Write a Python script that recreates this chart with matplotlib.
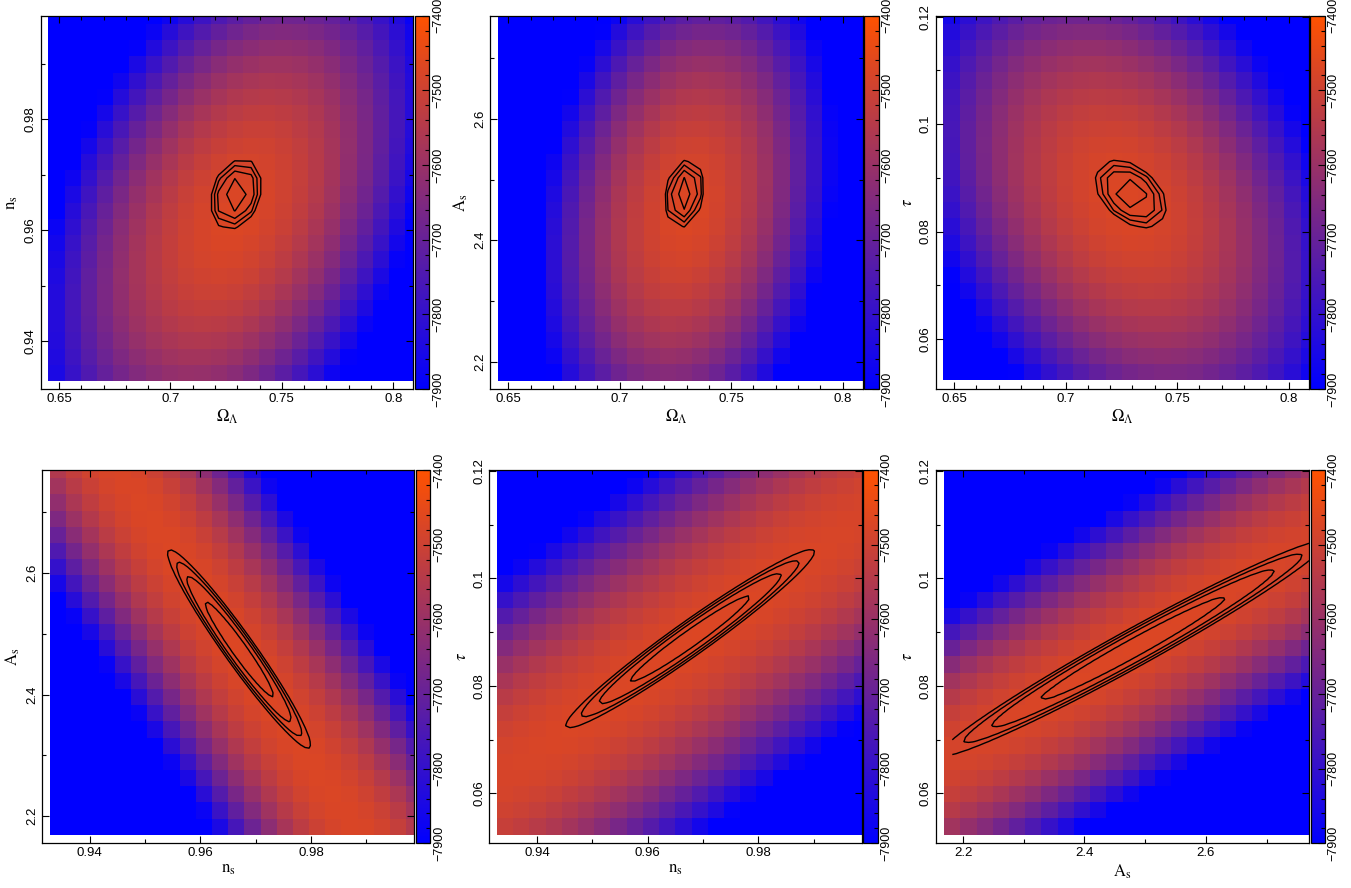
import numpy as np
import matplotlib
matplotlib.use('Agg')
import matplotlib.pyplot as plt
from matplotlib.colors import LinearSegmentedColormap, Normalize
from matplotlib.ticker import FixedLocator, MultipleLocator, FuncFormatter

W, H = 1351, 888

# ---- parameter axes ----
labels = {'omega': r'$\Omega_{\Lambda}$', 'ns': r'$\mathrm{n}_{\mathrm{s}}$',
          'As': r'$\mathrm{A}_{\mathrm{s}}$', 'tau': r'$\tau$'}
axis_lo = {'omega': 0.6418, 'ns': 0.9314, 'As': 2.155, 'tau': 0.0507}
data_lo = {'omega': 0.6452, 'ns': 0.9328, 'As': 2.169, 'tau': 0.0523}
data_hi = {'omega': 0.809, 'ns': 0.9987, 'As': 2.770, 'tau': 0.1202}
major_ticks = {'omega': [0.65, 0.7, 0.75, 0.8], 'ns': [0.94, 0.96, 0.98],
               'As': [2.2, 2.4, 2.6], 'tau': [0.06, 0.08, 0.1, 0.12]}
minor_step = {'omega': 0.01, 'ns': 0.01, 'As': 0.1, 'tau': 0.01}
n_nodes = 23

panels = [('omega', 'ns'), ('omega', 'As'), ('omega', 'tau'),
          ('ns', 'As'), ('ns', 'tau'), ('As', 'tau')]

# ---- log-likelihood surface (colour) ----
field_x0 = [0.729, 0.730, 0.727, 0.967, 0.966, 2.48]
field_y0 = [0.963, 2.45, 0.086, 2.47, 0.087, 0.087]
field_wx = [0.088, 0.0665, 0.095, 0.20, 0.206, 1.69]
field_wy = [0.051, 0.43, 0.049, 2.75, 0.154, 0.115]
field_rho = [0.40, 0.21, -0.30, -0.9915, 0.97, 0.97]
field_max = [-7470, -7470, -7470, -7470, -7470, -7470]
cbar_min, cbar_max = -7900, -7400
cbar_ticks = [-7900, -7800, -7700, -7600, -7500, -7400]

# ---- confidence contours ----
cont_x0 = [0.7295, 0.729, 0.7293, 0.967, 0.9677, 2.48]
cont_y0 = [0.9665, 2.477, 0.087, 2.475, 0.0888, 0.087]
cont_sx = [0.0049, 0.0037, 0.0066, 0.0053, 0.0092, 0.13]
cont_sy = [0.0026, 0.023, 0.0026, 0.067, 0.0068, 0.0082]
cont_rho = [0.25, 0.2, -0.4, -0.965, 0.972, 0.98]
cont_refine = [1, 1, 1, 4, 4, 4]
cont_levels = [0.693, 1.609, 2.303, 2.996]   # drop in ln L

# ---- layout (pixels) ----
boxes = [(40.7, 413.3, 15.7, 389), (490, 862.7, 15.7, 389), (935.7, 1308.7, 15.7, 389),
         (42.3, 414.3, 470, 843.3), (489.3, 861.7, 470, 843.3), (935.7, 1309, 470, 843.3)]

cmap = LinearSegmentedColormap.from_list('bo', [(0.0, 0.0, 1.0), (1.0, 0.32, 0.0)])
norm = Normalize(vmin=cbar_min, vmax=cbar_max)

plt.rcParams['font.family'] = ['Liberation Sans', 'DejaVu Sans']
plt.rcParams['mathtext.fontset'] = 'stix'

fig = plt.figure(figsize=(W / 100, H / 100), dpi=100)


def nodes_edges(p, refine=1):
    lo, hi = data_lo[p], data_hi[p]
    d = (hi - lo) / (n_nodes - 0.5)
    nodes = lo + d / 2 + d * np.arange(n_nodes)
    edges = np.append(lo + d * np.arange(n_nodes), hi)
    fine = np.linspace(nodes[0], nodes[-1], (n_nodes - 1) * refine + 1)
    return nodes, edges, fine


def quad(X, Y, x0, y0, sx, sy, rho):
    s = (X - x0) / sx
    t = (Y - y0) / sy
    return (s * s - 2 * rho * s * t + t * t) / (1 - rho * rho)


fmt = FuncFormatter(lambda v, pos: ('%g' % round(v, 6)))

for i, (px, py) in enumerate(panels):
    l, r, t, b = boxes[i]
    ax = fig.add_axes([l / W, 1 - b / H, (r - l) / W, (b - t) / H])
    xn, xe, xf = nodes_edges(px, cont_refine[i])
    yn, ye, yf = nodes_edges(py, cont_refine[i])
    X, Y = np.meshgrid(xn, yn)
    Q = quad(X, Y, field_x0[i], field_y0[i], field_wx[i], field_wy[i], field_rho[i])
    Z = field_max[i] - (field_max[i] - cbar_min) * Q
    Z = np.clip(Z, cbar_min, cbar_max)
    ax.pcolormesh(xe, ye, Z, cmap=cmap, norm=norm, shading='flat', rasterized=True)

    XF, YF = np.meshgrid(xf, yf)
    LL = -0.5 * quad(XF, YF, cont_x0[i], cont_y0[i], cont_sx[i], cont_sy[i], cont_rho[i])
    ax.contour(XF, YF, LL, levels=sorted([-c for c in cont_levels]), colors='black',
               linewidths=1.0, linestyles='solid')

    ax.set_xlim(axis_lo[px], data_hi[px])
    ax.set_ylim(axis_lo[py], data_hi[py])
    ax.xaxis.set_major_locator(FixedLocator(major_ticks[px]))
    ax.yaxis.set_major_locator(FixedLocator(major_ticks[py]))
    ax.xaxis.set_minor_locator(MultipleLocator(minor_step[px]))
    ax.yaxis.set_minor_locator(MultipleLocator(minor_step[py]))
    ax.xaxis.set_major_formatter(fmt)
    ax.yaxis.set_major_formatter(fmt)
    ax.tick_params(which='both', direction='in', top=True, right=True, color='black')
    ax.tick_params(which='major', length=5, width=0.8, labelsize=9.5, pad=3)
    ax.tick_params(which='minor', length=3, width=0.8)
    for lab in ax.get_yticklabels():
        lab.set_rotation(90)
        lab.set_va('center')
    for sp in ax.spines.values():
        sp.set_linewidth(0.9)
    ax.set_xlabel(labels[px], fontsize=12, labelpad=2)
    ax.set_ylabel(labels[py], fontsize=12, labelpad=3)

    cax = fig.add_axes([(r + 1.5) / W, 1 - b / H, 14.5 / W, (b - t) / H])
    cb = fig.colorbar(plt.cm.ScalarMappable(norm=norm, cmap=cmap), cax=cax)
    cb.set_ticks(cbar_ticks)
    cb.ax.yaxis.set_minor_locator(MultipleLocator(20))
    cb.ax.tick_params(which='both', direction='in', right=True, left=False, color='black')
    cb.ax.tick_params(which='major', length=5, width=0.8, labelsize=9, pad=2)
    cb.ax.tick_params(which='minor', length=3, width=0.8)
    cb.ax.set_yticklabels(['\u2212%d' % abs(v) for v in cbar_ticks])
    for lab in cb.ax.get_yticklabels():
        lab.set_rotation(90)
        lab.set_va('center')
    cb.outline.set_linewidth(0.9)

fig.savefig('out.png', dpi=100)
